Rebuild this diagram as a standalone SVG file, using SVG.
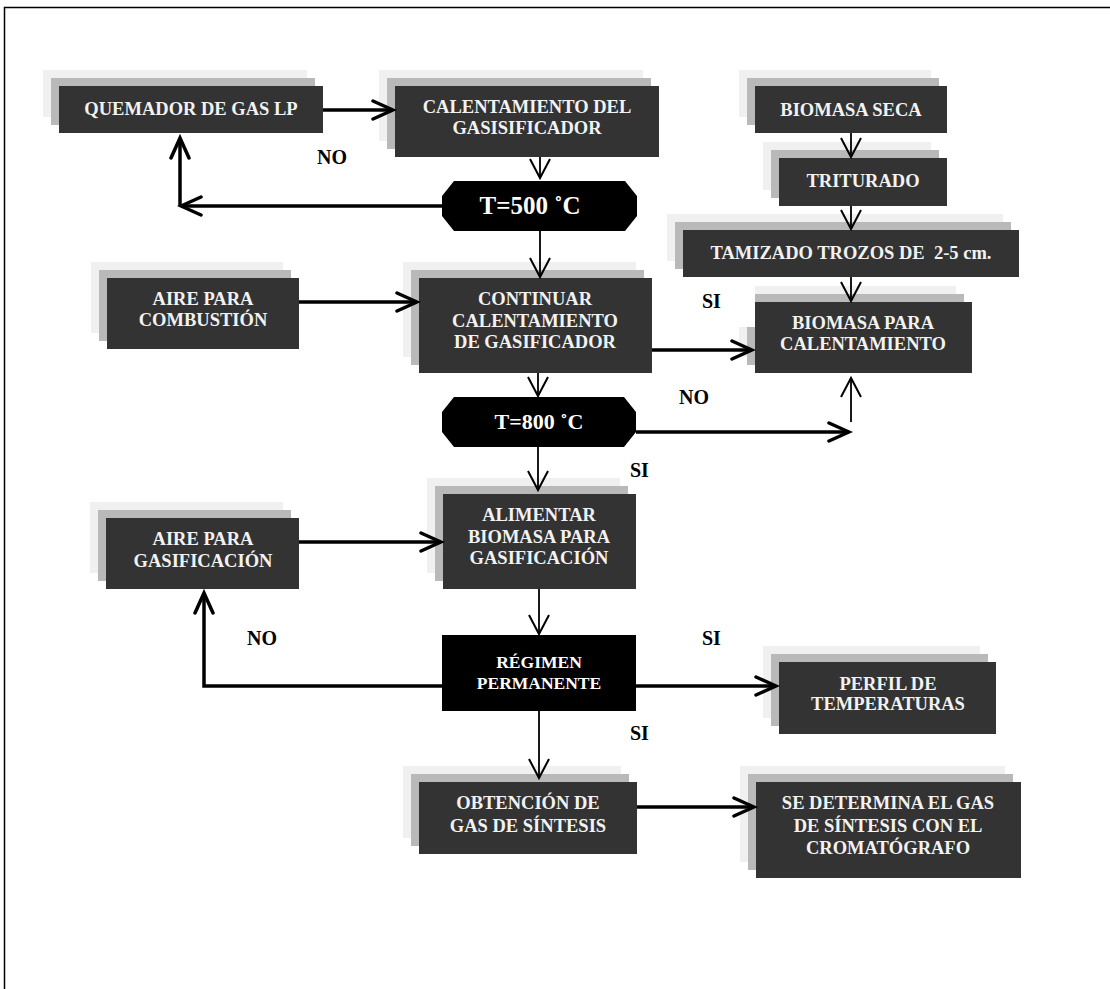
<svg xmlns="http://www.w3.org/2000/svg" width="1110" height="989" viewBox="0 0 1110 989">
  <defs>
    <style>
      .sh1 { fill: #f0f0f0; }
      .sh2 { fill: #b9b9b9; }
      .box { fill: #333333; }
      .dec { fill: #000000; }
      .t { font-family: "Liberation Serif", "Times New Roman", serif; font-weight: bold; font-size: 18.5px; fill: #f2f2f2; text-anchor: middle; }
      .tb { font-family: "Liberation Serif", "Times New Roman", serif; font-weight: bold; font-size: 25px; fill: #ffffff; text-anchor: middle; }
      .lbl { font-family: "Liberation Serif", "Times New Roman", serif; font-weight: bold; font-size: 20px; fill: #000000; }
      .thick { fill: none; stroke: #000; stroke-width: 3.5; }
      .thin { fill: none; stroke: #000; stroke-width: 1.8; }
    </style>
    <marker id="ahThick" markerUnits="userSpaceOnUse" markerWidth="28" markerHeight="28" viewBox="-24 -14 28 28" refX="0" refY="0" orient="auto">
      <path d="M-20,-9 L0,0 L-20,9" fill="none" stroke="#000" stroke-width="3.5" stroke-linecap="round"/>
    </marker>
    <marker id="ahThin" markerUnits="userSpaceOnUse" markerWidth="28" markerHeight="28" viewBox="-24 -14 28 28" refX="0" refY="0" orient="auto">
      <path d="M-19,-10 L0,0 L-19,10" fill="none" stroke="#000" stroke-width="2"/>
    </marker>
  </defs>

  <rect width="1110" height="989" fill="#ffffff"/>
  <!-- page frame -->
  <rect x="4.5" y="7.5" width="1200" height="1100" fill="none" stroke="#000" stroke-width="1.5"/>

  <!-- process boxes -->
  <g id="quemador">
    <rect class="sh1" x="43" y="70" width="264" height="47"/>
    <rect class="sh2" x="51" y="78" width="264" height="47"/>
    <rect class="box" x="59" y="86" width="264" height="47"/>
    <text class="t" x="191" y="115">QUEMADOR DE GAS LP</text>
  </g>

  <g id="calentamiento">
    <rect class="sh1" x="379" y="70" width="264" height="71"/>
    <rect class="sh2" x="387" y="78" width="264" height="71"/>
    <rect class="box" x="395" y="86" width="264" height="71"/>
    <text class="t" x="527" y="113">CALENTAMIENTO DEL</text>
    <text class="t" x="527" y="134">GASISIFICADOR</text>
  </g>

  <g id="t500">
    <polygon class="dec" points="454,181 625,181 637,196 637,216 625,231 454,231 442,216 442,196"/>
    <text class="tb" x="530" y="214">T=500 ˚C</text>
  </g>

  <g id="biomasa-seca">
    <rect class="sh1" x="739" y="70" width="192" height="47"/>
    <rect class="sh2" x="747" y="78" width="192" height="47"/>
    <rect class="box" x="755" y="86" width="192" height="47"/>
    <text class="t" x="851" y="116">BIOMASA SECA</text>
  </g>

  <g id="triturado">
    <rect class="sh1" x="763" y="142" width="168" height="48"/>
    <rect class="sh2" x="771" y="150" width="168" height="48"/>
    <rect class="box" x="779" y="158" width="168" height="48"/>
    <text class="t" x="863" y="187">TRITURADO</text>
  </g>

  <g id="tamizado">
    <rect class="sh1" x="667" y="214" width="336" height="47"/>
    <rect class="sh2" x="675" y="222" width="336" height="47"/>
    <rect class="box" x="683" y="230" width="336" height="47"/>
    <text class="t" x="851" y="259" xml:space="preserve">TAMIZADO TROZOS DE  2-5 cm.</text>
  </g>

  <g id="aire-combustion">
    <rect class="sh1" x="91" y="262" width="192" height="71"/>
    <rect class="sh2" x="99" y="270" width="192" height="71"/>
    <rect class="box" x="107" y="278" width="192" height="71"/>
    <text class="t" x="203" y="305">AIRE PARA</text>
    <text class="t" x="203" y="326">COMBUSTIÓN</text>
  </g>

  <g id="continuar">
    <rect class="sh1" x="403" y="262" width="233" height="95"/>
    <rect class="sh2" x="411" y="270" width="233" height="95"/>
    <rect class="box" x="419" y="278" width="233" height="95"/>
    <text class="t" x="535" y="305">CONTINUAR</text>
    <text class="t" x="535" y="327">CALENTAMIENTO</text>
    <text class="t" x="535" y="348">DE GASIFICADOR</text>
  </g>

  <g id="biomasa-calentamiento">
    <rect class="sh1" x="739" y="286" width="217" height="71"/>
    <rect class="sh2" x="747" y="294" width="217" height="71"/>
    <rect fill="#ffffff" x="734" y="280" width="21" height="47"/>
    <rect class="box" x="755" y="302" width="217" height="71"/>
    <text class="t" x="863" y="329">BIOMASA PARA</text>
    <text class="t" x="863" y="350">CALENTAMIENTO</text>
  </g>

  <g id="t800">
    <polygon class="dec" points="454,397 624,397 636,412 636,432 624,447 454,447 442,432 442,412"/>
    <text class="tb" x="539" y="429" style="font-size:22px">T=800 ˚C</text>
  </g>

  <g id="aire-gasificacion">
    <rect class="sh1" x="90" y="502" width="193" height="71"/>
    <rect class="sh2" x="98" y="510" width="193" height="71"/>
    <rect class="box" x="106" y="518" width="193" height="71"/>
    <text class="t" x="203" y="545">AIRE PARA</text>
    <text class="t" x="203" y="567">GASIFICACIÓN</text>
  </g>

  <g id="alimentar">
    <rect class="sh1" x="427" y="478" width="193" height="95"/>
    <rect class="sh2" x="435" y="486" width="193" height="95"/>
    <rect class="box" x="443" y="494" width="193" height="95"/>
    <text class="t" x="539" y="521">ALIMENTAR</text>
    <text class="t" x="539" y="543">BIOMASA PARA</text>
    <text class="t" x="539" y="564">GASIFICACIÓN</text>
  </g>

  <g id="regimen">
    <rect class="dec" x="442" y="635" width="194" height="76"/>
    <text class="t" x="539" y="668" style="font-size:17.5px;fill:#fff">RÉGIMEN</text>
    <text class="t" x="539" y="689" style="font-size:17.5px;fill:#fff">PERMANENTE</text>
  </g>

  <g id="perfil">
    <rect class="sh1" x="763" y="646" width="217" height="72"/>
    <rect class="sh2" x="771" y="654" width="217" height="72"/>
    <rect class="box" x="779" y="662" width="217" height="72"/>
    <text class="t" x="888" y="690">PERFIL DE</text>
    <text class="t" x="888" y="710">TEMPERATURAS</text>
  </g>

  <g id="obtencion">
    <rect class="sh1" x="403" y="766" width="218" height="72"/>
    <rect class="sh2" x="411" y="774" width="218" height="72"/>
    <rect class="box" x="419" y="782" width="218" height="72"/>
    <text class="t" x="528" y="809">OBTENCIÓN DE</text>
    <text class="t" x="528" y="832">GAS DE SÍNTESIS</text>
  </g>

  <g id="cromatografo">
    <rect class="sh1" x="740" y="766" width="265" height="96"/>
    <rect class="sh2" x="748" y="774" width="265" height="96"/>
    <rect class="box" x="756" y="782" width="265" height="96"/>
    <text class="t" x="888" y="809">SE DETERMINA EL GAS</text>
    <text class="t" x="888" y="832">DE SÍNTESIS CON EL</text>
    <text class="t" x="888" y="854">CROMATÓGRAFO</text>
  </g>

  <!-- connectors -->
  <g id="connectors">
    <path class="thick" d="M323,110 H393" marker-end="url(#ahThick)"/>
    <path class="thick" d="M442,206 H181" marker-end="url(#ahThick)"/>
    <path class="thick" d="M180,206 V138" marker-end="url(#ahThick)"/>
    <path class="thick" d="M299,302 H417" marker-end="url(#ahThick)"/>
    <path class="thick" d="M652,350 H752" marker-end="url(#ahThick)"/>
    <path class="thick" d="M636,432 H849" marker-end="url(#ahThick)"/>
    <path class="thin" d="M851,422 V378" marker-end="url(#ahThin)"/>
    <path class="thick" d="M299,542 H441" marker-end="url(#ahThick)"/>
    <path class="thick" d="M442,686 H204 V593" marker-end="url(#ahThick)"/>
    <path class="thick" d="M636,686 H776" marker-end="url(#ahThick)"/>
    <path class="thick" d="M637,807 H754" marker-end="url(#ahThick)"/>

    <path class="thin" d="M540,157 V178" marker-end="url(#ahThin)"/>
    <path class="thin" d="M540,231 V277" marker-end="url(#ahThin)"/>
    <path class="thin" d="M538,373 V396" marker-end="url(#ahThin)"/>
    <path class="thin" d="M538,447 V490" marker-end="url(#ahThin)"/>
    <path class="thin" d="M539,589 V634" marker-end="url(#ahThin)"/>
    <path class="thin" d="M539,711 V778" marker-end="url(#ahThin)"/>
    <path class="thin" d="M851,133 V157" marker-end="url(#ahThin)"/>
    <path class="thin" d="M851,206 V229" marker-end="url(#ahThin)"/>
    <path class="thin" d="M851,277 V301" marker-end="url(#ahThin)"/>
  </g>

  <!-- decision labels -->
  <g id="labels">
    <text class="lbl" x="317" y="164">NO</text>
    <text class="lbl" x="702" y="308">SI</text>
    <text class="lbl" x="679" y="404">NO</text>
    <text class="lbl" x="630" y="477">SI</text>
    <text class="lbl" x="247" y="645">NO</text>
    <text class="lbl" x="702" y="645">SI</text>
    <text class="lbl" x="630" y="740">SI</text>
  </g>
</svg>
